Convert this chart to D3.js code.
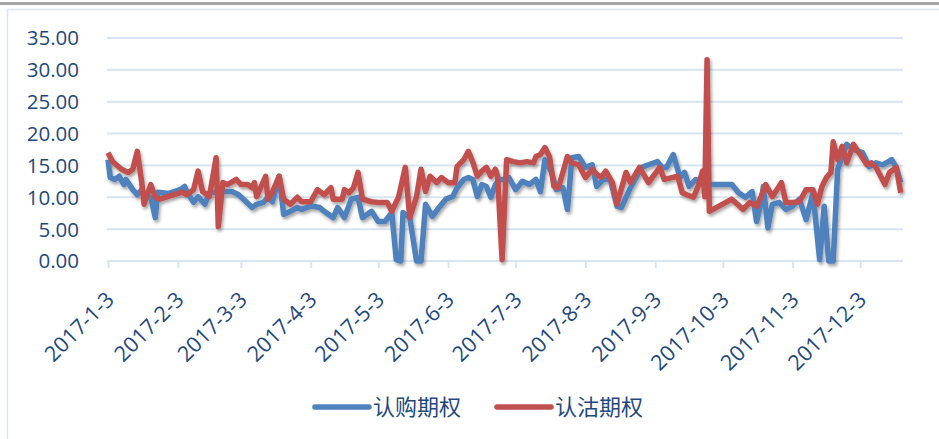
<!DOCTYPE html>
<html>
<head>
<meta charset="utf-8">
<script src="https://cdn.jsdelivr.net/npm/d3@7"></script>
<style>
  body { margin: 0; background: #fff; }
  svg { display: block; }
  text { font-family: "Open Sans", "Noto Sans CJK SC", sans-serif; fill: #1f497d; }
</style>
</head>
<body>
<div id="chart"></div>
<script>
var width = 939;
var height = 439;

var yTicks = [0, 5, 10, 15, 20, 25, 30, 35];
var tickDates = ["2017-01-03", "2017-02-03", "2017-03-03", "2017-04-03", "2017-05-03", "2017-06-03",
    "2017-07-03", "2017-08-03", "2017-09-03", "2017-10-03", "2017-11-03", "2017-12-03"];
var tickLabels = ["2017-1-3", "2017-2-3", "2017-3-3", "2017-4-3", "2017-5-3", "2017-6-3",
    "2017-7-3", "2017-8-3", "2017-9-3", "2017-10-3", "2017-11-3", "2017-12-3"];
var seriesNames = ["认购期权", "认沽期权"];

// 认购期权
var callDates = ["2017-01-03","2017-01-04","2017-01-06","2017-01-08","2017-01-10","2017-01-11","2017-01-14","2017-01-16",
    "2017-01-18","2017-01-20","2017-01-22","2017-01-24","2017-01-25","2017-01-30","2017-02-04","2017-02-06","2017-02-07",
    "2017-02-10","2017-02-12","2017-02-15","2017-02-17","2017-02-23","2017-02-27","2017-03-02","2017-03-08","2017-03-10",
    "2017-03-13","2017-03-15","2017-03-17","2017-03-20","2017-03-22","2017-03-25","2017-03-28","2017-03-30","2017-04-03",
    "2017-04-04","2017-04-07","2017-04-09","2017-04-13","2017-04-15","2017-04-18","2017-04-21","2017-04-24","2017-04-26",
    "2017-04-30","2017-05-03","2017-05-06","2017-05-09","2017-05-11","2017-05-13","2017-05-14","2017-05-17","2017-05-20",
    "2017-05-22","2017-05-24","2017-05-27","2017-05-30","2017-06-02","2017-06-05","2017-06-07","2017-06-10","2017-06-12",
    "2017-06-14","2017-06-16","2017-06-18","2017-06-20","2017-06-22","2017-06-24","2017-06-26","2017-06-28","2017-06-30",
    "2017-07-03","2017-07-06","2017-07-09","2017-07-12","2017-07-14","2017-07-16","2017-07-19","2017-07-21","2017-07-24",
    "2017-07-26","2017-07-28","2017-07-31","2017-08-03","2017-08-06","2017-08-08","2017-08-11","2017-08-14","2017-08-17",
    "2017-08-19","2017-08-23","2017-08-28","2017-08-31","2017-09-04","2017-09-06","2017-09-08","2017-09-11","2017-09-14",
    "2017-09-16","2017-09-18","2017-09-21","2017-09-25","2017-09-28","2017-10-07","2017-10-10","2017-10-13","2017-10-16",
    "2017-10-18","2017-10-20","2017-10-21","2017-10-23","2017-10-25","2017-10-28","2017-10-31","2017-11-03","2017-11-06",
    "2017-11-09","2017-11-12","2017-11-15","2017-11-17","2017-11-19","2017-11-21","2017-11-23","2017-11-25","2017-11-27",
    "2017-11-30","2017-12-04","2017-12-07","2017-12-10","2017-12-13","2017-12-17","2017-12-19","2017-12-21"];
var callValues = [15.9,13.1,12.8,13.3,12.0,12.8,11.2,10.4,
    11.2,10.1,10.0,6.8,10.8,10.6,11.2,11.7,10.9,
    9.2,10.1,8.9,10.7,10.9,10.9,10.4,8.4,8.9,
    9.2,10.0,9.3,13.3,7.3,7.8,8.4,8.1,8.6,
    8.6,8.4,7.8,6.8,8.4,6.8,9.7,10.0,6.8,
    7.8,6.2,6.2,7.6,0.2,0.0,7.6,6.8,0.0,
    0.0,8.9,7.0,8.4,9.7,10.1,11.5,12.8,13.1,
    12.8,10.1,12.0,11.7,10.0,12.0,12.8,12.8,13.1,
    11.2,12.5,12.0,12.8,10.9,15.9,13.9,11.2,11.5,
    8.1,16.2,16.4,14.7,15.1,11.7,12.8,12.8,8.6,
    8.4,11.5,14.7,15.1,15.6,14.7,14.7,16.7,13.1,
    13.9,11.7,12.8,12.0,12.0,12.0,10.7,10.0,10.9,
    6.2,9.2,11.7,5.2,8.9,9.2,8.1,8.6,9.7,
    6.5,10.7,0.2,8.6,0.0,0.0,14.4,16.4,18.3,
    17.5,17.0,14.8,15.4,15.1,15.9,14.7,12.3];

// 认沽期权
var putDates = ["2017-01-03","2017-01-05","2017-01-09","2017-01-12","2017-01-14","2017-01-16","2017-01-18","2017-01-19",
    "2017-01-22","2017-01-24","2017-01-26","2017-02-05","2017-02-07","2017-02-10","2017-02-12","2017-02-14","2017-02-17",
    "2017-02-20","2017-02-21","2017-02-23","2017-02-25","2017-03-01","2017-03-03","2017-03-06","2017-03-08","2017-03-09",
    "2017-03-10","2017-03-14","2017-03-15","2017-03-17","2017-03-20","2017-03-22","2017-03-25","2017-03-28","2017-03-30",
    "2017-04-03","2017-04-06","2017-04-09","2017-04-12","2017-04-13","2017-04-17","2017-04-18","2017-04-20","2017-04-22",
    "2017-04-24","2017-04-26","2017-04-30","2017-05-03","2017-05-07","2017-05-09","2017-05-12","2017-05-15","2017-05-17",
    "2017-05-20","2017-05-22","2017-05-24","2017-05-26","2017-05-29","2017-05-31","2017-06-03","2017-06-06","2017-06-07",
    "2017-06-10","2017-06-12","2017-06-14","2017-06-16","2017-06-18","2017-06-20","2017-06-22","2017-06-24","2017-06-25",
    "2017-06-27","2017-06-29","2017-07-02","2017-07-05","2017-07-08","2017-07-11","2017-07-12","2017-07-14","2017-07-16",
    "2017-07-18","2017-07-20","2017-07-22","2017-07-26","2017-07-28","2017-07-31","2017-08-03","2017-08-06","2017-08-08",
    "2017-08-10","2017-08-12","2017-08-15","2017-08-17","2017-08-21","2017-08-23","2017-08-27","2017-08-31","2017-09-05",
    "2017-09-07","2017-09-13","2017-09-15","2017-09-17","2017-09-20","2017-09-22","2017-09-24","2017-09-25","2017-09-26",
    "2017-09-27","2017-10-07","2017-10-12","2017-10-15","2017-10-18","2017-10-20","2017-10-22","2017-10-25","2017-10-29",
    "2017-10-31","2017-11-03","2017-11-06","2017-11-09","2017-11-12","2017-11-14","2017-11-16","2017-11-18","2017-11-20",
    "2017-11-21","2017-11-23","2017-11-25","2017-11-27","2017-11-30","2017-12-03","2017-12-06","2017-12-08","2017-12-10",
    "2017-12-14","2017-12-16","2017-12-19","2017-12-21"];
var putValues = [17.0,15.6,14.4,13.9,14.4,17.2,12.3,8.9,
    12.0,10.0,9.7,10.8,10.4,11.2,14.1,10.9,10.1,
    16.2,5.4,12.3,12.0,12.8,12.0,12.0,11.5,12.3,
    10.1,13.3,9.7,10.8,13.3,9.7,8.9,10.0,9.3,
    9.3,11.2,10.4,11.5,9.7,9.7,11.2,10.7,11.5,
    13.9,9.7,9.3,9.2,9.2,7.8,10.0,14.7,6.8,
    10.1,14.4,10.9,13.3,12.3,13.1,12.3,12.3,14.8,
    15.9,17.2,15.5,13.3,14.1,14.7,13.3,14.4,13.3,
    0.2,15.9,15.6,15.4,15.6,15.4,16.4,16.7,17.8,
    16.4,11.7,11.5,16.4,15.4,15.1,13.1,14.4,13.6,
    13.1,14.1,12.3,8.9,13.9,12.3,14.7,12.3,14.7,
    12.8,13.3,10.7,10.4,10.0,11.7,14.1,10.1,31.6,
    7.8,9.7,8.1,9.2,8.6,10.1,12.0,10.1,12.3,
    9.2,9.2,9.3,11.2,11.2,8.9,11.7,13.1,13.9,
    18.7,15.9,18.0,15.4,18.3,16.7,15.1,15.4,14.7,
    12.0,13.9,14.7,10.7];

var parse = d3.timeParse("%Y-%m-%d");
var colors = ["#4f81bd", "#c0504d"];

var series = [
    callDates.map(function (d, i) { return {date: parse(d), value: callValues[i]}; }),
    putDates.map(function (d, i) { return {date: parse(d), value: putValues[i]}; })
];

var svg = d3.select("#chart").append("svg")
    .attr("width", width)
    .attr("height", height);

var defs = svg.append("defs");
var shadow = defs.append("filter").attr("id", "shadow")
    .attr("x", "-5%").attr("y", "-5%").attr("width", "110%").attr("height", "110%");
shadow.append("feDropShadow")
    .attr("dx", 1.5).attr("dy", 2.5).attr("stdDeviation", 1.5)
    .attr("flood-color", "#000").attr("flood-opacity", 0.35);

// frame
svg.append("rect").attr("x", 0).attr("y", 2).attr("width", width).attr("height", 3).attr("fill", "#a6a6a6");
svg.append("line").attr("x1", 7).attr("x2", width).attr("y1", 9.5).attr("y2", 9.5)
    .attr("stroke", "#dce6f2").attr("stroke-width", 1.5);
svg.append("line").attr("x1", 7.5).attr("x2", 7.5).attr("y1", 9).attr("y2", height)
    .attr("stroke", "#dce6f2").attr("stroke-width", 1.5);

var xScale = d3.scaleTime()
    .domain([parse("2017-01-03"), parse("2017-12-22")])
    .range([108, 903]);

var yScale = d3.scaleLinear()
    .domain([0, 35])
    .range([261, 38]);

// gridlines
svg.append("g").selectAll("line")
    .data(yTicks.filter(function (d) { return d > 0; }))
    .enter().append("line")
    .attr("x1", 107).attr("x2", 903)
    .attr("y1", function (d) { return yScale(d); })
    .attr("y2", function (d) { return yScale(d); })
    .attr("stroke", "#d9e4f2").attr("stroke-width", 2);

// y labels
svg.append("g").selectAll("text")
    .data(yTicks)
    .enter().append("text")
    .attr("x", 79)
    .attr("y", function (d) { return yScale(d); })
    .attr("dy", "0.36em")
    .attr("text-anchor", "end")
    .style("font-size", "20.5px")
    .text(function (d) { return d3.format(".2f")(d); });

// x axis
var xAxis = d3.axisBottom(xScale)
    .tickValues(tickDates.map(parse))
    .tickSize(7)
    .tickFormat(function (d, i) { return tickLabels[i]; });

var axisG = svg.append("g")
    .attr("transform", "translate(0," + yScale(0) + ")")
    .call(xAxis);
axisG.select(".domain").attr("stroke", "#d9e4f2").attr("stroke-width", 2)
    .attr("d", "M107,0H903");
axisG.selectAll(".tick line").attr("stroke", "#d9e4f2").attr("stroke-width", 2);
axisG.selectAll(".tick text")
    .style("font-size", "21.5px")
    .attr("fill", "#1f497d")
    .style("text-anchor", "end")
    .attr("dy", 0)
    .attr("y", 0).attr("x", 0)
    .attr("transform", "translate(7,40) rotate(-45)");

// lines
var line = d3.line()
    .x(function (d) { return xScale(d.date); })
    .y(function (d) { return yScale(d.value); });

svg.append("g").attr("filter", "url(#shadow)")
    .selectAll("path")
    .data(series)
    .enter().append("path")
    .attr("d", line)
    .attr("fill", "none")
    .attr("stroke", function (d, i) { return colors[i]; })
    .attr("stroke-width", 5.5)
    .attr("stroke-linejoin", "round");

// legend
var legendX = [313, 495];
var legend = svg.append("g").selectAll("g")
    .data(seriesNames)
    .enter().append("g")
    .attr("transform", function (d, i) { return "translate(" + legendX[i] + ",407)"; });
legend.append("line")
    .attr("x1", 2).attr("x2", 56).attr("y1", 0).attr("y2", 0)
    .attr("stroke", function (d, i) { return colors[i]; })
    .attr("stroke-width", 5.5)
    .attr("stroke-linecap", "round");
legend.append("text")
    .attr("x", 60)
    .attr("y", 0)
    .attr("dy", "0.36em")
    .style("font-size", "22px")
    .text(function (d) { return d; });
</script>
</body>
</html>
